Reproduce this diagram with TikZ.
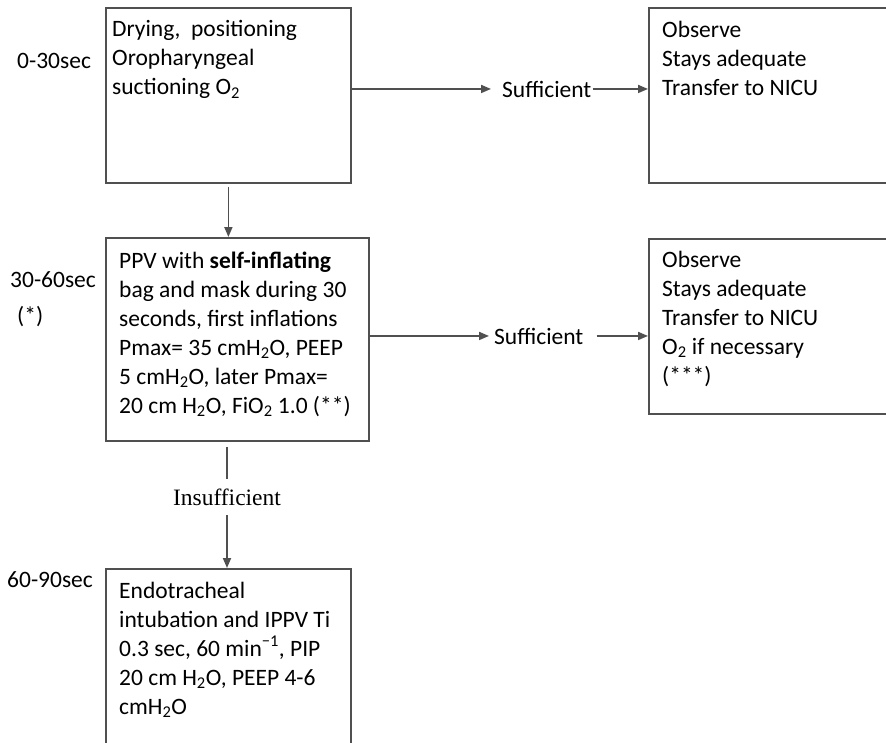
\documentclass[tikz,border=0pt]{standalone}
\usepackage{fontspec}
\setmainfont{Carlito}
\newfontfamily\tnr{Liberation Serif}
\usetikzlibrary{arrows.meta,calc}
\definecolor{lc}{HTML}{505050}
\begin{document}
\begin{tikzpicture}[x=1pt,y=-1pt,
  box/.style={draw=lc,line width=1.8pt,inner sep=0pt,anchor=north west},
  txt/.style={inner sep=0pt,anchor=base west,font=\fontsize{23.5}{29}\selectfont},
  conn/.style={draw=lc,line width=1.8pt},
  arr/.style={draw=lc,line width=1.8pt,-{Triangle[length=10pt,width=8pt]}}]
\clip (0,0) rectangle (886,742);
\fill[white] (0,0) rectangle (886,742);
% boxes
\node[box,minimum width=245pt,minimum height=175pt] (b1) at (105,7) {};
\node[box,minimum width=263pt,minimum height=203pt] (b2) at (105,237) {};
\node[box,minimum width=260pt,minimum height=175pt] (b3) at (648,7) {};
\node[box,minimum width=260pt,minimum height=175pt] (b4) at (648,238) {};
\node[box,minimum width=245pt,minimum height=200pt] (b5) at (105,568) {};
% box texts
\node[txt] (t1) at (112,36.5) {\parbox[t]{230pt}{\raggedright Drying,\ \ positioning\\Oropharyngeal\\suctioning O\textsubscript{2}}};
\node[txt] (t2) at (119,268) {\parbox[t]{245pt}{\raggedright PPV with \textbf{self-inflating}\\bag and mask during 30\\seconds, first inflations\\Pmax= 35 cmH\textsubscript{2}O, PEEP\\5 cmH\textsubscript{2}O, later Pmax=\\20 cm H\textsubscript{2}O, FiO\textsubscript{2} 1.0 (**)}};
\node[txt] (t3) at (662,37) {\parbox[t]{220pt}{\raggedright Observe\\Stays adequate\\Transfer to NICU}};
\node[txt] (t4) at (662,267) {\parbox[t]{220pt}{\raggedright Observe\\Stays adequate\\Transfer to NICU\\O\textsubscript{2} if necessary\\(***)}};
\node[txt] (t5) at (119,598) {\parbox[t]{230pt}{\raggedright Endotracheal\\intubation and IPPV Ti\\0.3 sec, 60 min\textsuperscript{−1}, PIP\\20 cm H\textsubscript{2}O, PEEP 4-6\\cmH\textsubscript{2}O}};
% time labels
\node[txt] (l1) at (17,68) {0-30sec};
\node[txt] (l2) at (10,287) {30-60sec};
\node[txt] (l2b) at (17,323) {(*)};
\node[txt] (l3) at (7,587) {60-90sec};
% outcome labels
\node[txt] (s1) at (502,97) {Sufficient};
\node[txt] (s2) at (494,344) {Sufficient};
\node[inner sep=0pt,anchor=base,font=\tnr\fontsize{23.5}{28}\selectfont] (ins) at (227,505) {Insufficient};
% connectors
\draw[arr] (b1.east |- s1.west) -- ([xshift=-11pt]s1.west);
\draw[arr] ([xshift=1pt]s1.east) -- (s1.east -| b3.west);
\draw[arr] (b2.east |- s2.west) -- ([xshift=-5pt]s2.west);
\draw[arr] ([xshift=13pt]s2.east) -- (s2.east -| b4.west);
\draw[arr,shorten <=3pt] (b1.south) -- (b1.south |- b2.north);
\draw[conn,shorten <=5pt,shorten >=9pt] (ins |- b2.south) -- (ins.north);
\draw[arr,shorten <=10pt] (ins.south) -- (ins.south |- b5.north);
\end{tikzpicture}
\end{document}
